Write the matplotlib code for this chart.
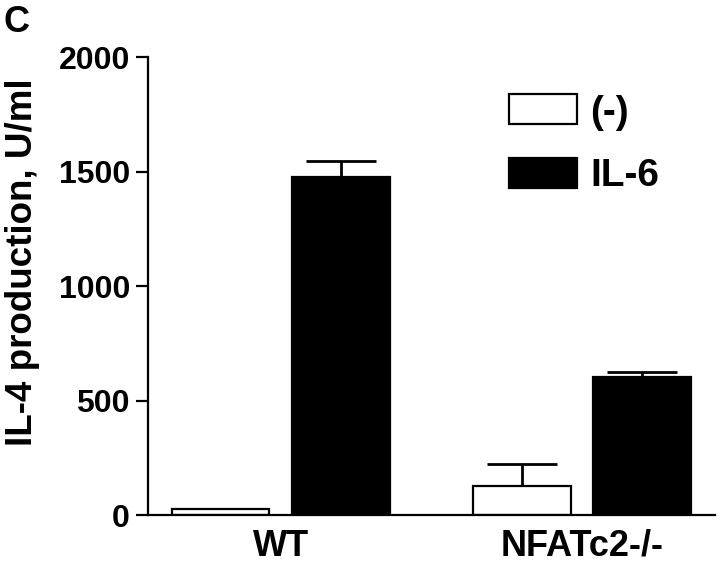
import numpy as np
import matplotlib.pyplot as plt

plt.rcParams['font.family'] = ['Liberation Sans', 'DejaVu Sans']
plt.rcParams['font.weight'] = 'bold'

groups = ['WT', 'NFATc2-/-']
series = ['(-)', 'IL-6']
values = {'(-)': [28, 125], 'IL-6': [1478, 602]}
errors = {'(-)': [0, 97], 'IL-6': [68, 22]}
yticks = [0, 500, 1000, 1500, 2000]

fig = plt.figure(figsize=(7.2, 5.66), dpi=100)
ax = fig.add_axes([0.2056, 0.0901, 0.787, 0.8091])

centers = np.array([1.355, 4.435])
offset = 0.615
colors = {'(-)': 'white', 'IL-6': 'black'}
for k, name in enumerate(series):
    pos = centers + (k * 2 - 1) * offset
    ax.bar(pos, values[name], width=1.0, color=colors[name], edgecolor='black',
           linewidth=1.6, label=name, zorder=2)
    err = np.array(errors[name])
    ax.errorbar(pos, values[name], yerr=[np.zeros_like(err), err], fmt='none',
                ecolor='black', elinewidth=2, capsize=25, capthick=2, zorder=1)

ax.set_xlim(0, 5.79)
ax.set_ylim(0, 2000)
ax.set_yticks(yticks)
ax.set_xticks(centers)
ax.set_xticklabels(groups, fontsize=26, fontweight='bold')
ax.tick_params(axis='x', length=0, pad=10)
ax.tick_params(axis='y', length=9, width=1.6, labelsize=23, pad=4)
for t in ax.get_yticklabels():
    t.set_fontweight('bold')

ax.spines['top'].set_visible(False)
ax.spines['right'].set_visible(False)
ax.spines['left'].set_linewidth(1.6)
ax.spines['bottom'].set_linewidth(1.6)

ax.set_ylabel('IL-4 production, U/ml', fontsize=26.5, fontweight='bold')
ax.yaxis.set_label_coords(-0.19, 0.552)

leg = ax.legend(loc='upper left', bbox_to_anchor=(0.575, 0.995), frameon=False,
                prop={'size': 28, 'weight': 'bold'}, handlelength=1.75,
                handleheight=0.8, handletextpad=0.35, labelspacing=0.7)

fig.text(0.005, 0.992, 'C', fontsize=26, fontweight='bold', va='top', ha='left')

fig.savefig('out.png', dpi=100)
